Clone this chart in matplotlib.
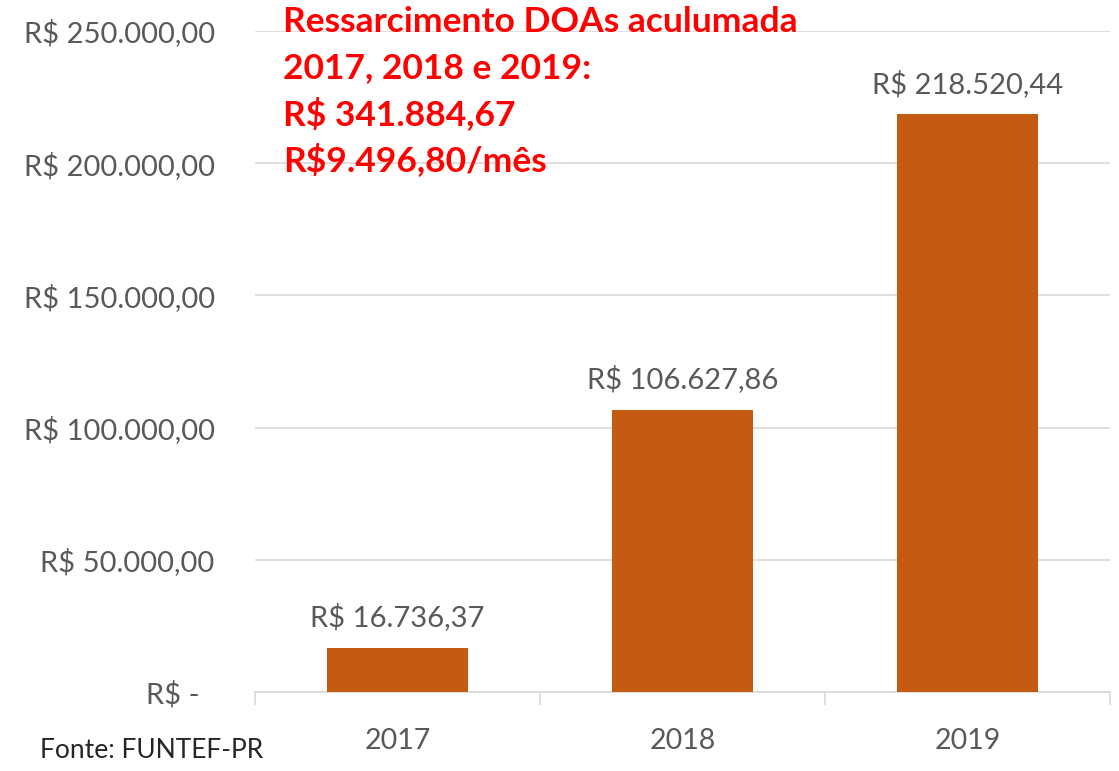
import matplotlib
matplotlib.use("Agg")
import matplotlib.pyplot as plt
from matplotlib.ticker import FixedLocator

categories = ["2017", "2018", "2019"]
values = [16736.37, 106627.86, 218520.44]
value_labels = ["R$ 16.736,37", "R$ 106.627,86", "R$ 218.520,44"]
ytick_values = [0, 50000, 100000, 150000, 200000, 250000]
ytick_labels = ["R$ -  ", "R$ 50.000,00", "R$ 100.000,00", "R$ 150.000,00",
                "R$ 200.000,00", "R$ 250.000,00"]
note_lines = ["Ressarcimento DOAs aculumada", "2017, 2018 e 2019:",
              "R$ 341.884,67", "R$9.496,80/mês"]
source = "Fonte: FUNTEF-PR"

plt.rcParams['font.family'] = ['Lato', 'DejaVu Sans']
gray = "#595959"
bar_color = "#C55A11"

fig = plt.figure(figsize=(11.19, 7.71), dpi=100)
ax = fig.add_axes([255/1119, 1-692/771, (1110-255)/1119, (692-31)/771])

x = list(range(len(categories)))
ax.bar(x, values, width=0.495, color=bar_color, zorder=3)
ax.set_xlim(-0.5, len(categories)-0.5)
ax.set_ylim(0, 250000)

ax.set_yticks(ytick_values)
ax.set_yticklabels(ytick_labels, fontsize=21, color=gray)
ax.tick_params(axis='y', length=0, pad=29)
ax.set_xticks(x)
ax.set_xticklabels(categories, fontsize=20.5, color=gray)
ax.tick_params(axis='x', length=0, pad=26)
ax.xaxis.set_minor_locator(FixedLocator([-0.5, 0.5, 1.5, 2.5]))
ax.tick_params(axis='x', which='minor', length=9, color="#d9d9d9", width=1.2)

ax.grid(axis='y', color="#d9d9d9", linewidth=1.2, zorder=0)
for s in ['top', 'right', 'left']:
    ax.spines[s].set_visible(False)
ax.spines['bottom'].set_color("#d9d9d9")
ax.spines['bottom'].set_linewidth(1.2)

for xi, v, lab in zip(x, values, value_labels):
    ax.annotate(lab, (xi, v), xytext=(0, 12), textcoords='offset points',
                ha='center', va='bottom', fontsize=21, color=gray)

for i, line in enumerate(note_lines):
    fig.text(283/1119, 1-(22+46*i)/771, line, fontsize=25.5, fontweight='bold',
             color="#FF0000", ha='left', va='center')

fig.text(40/1119, 1-751/771, source, fontsize=19, color="#262626",
         ha='left', va='center')

fig.savefig("out.png", dpi=100)
